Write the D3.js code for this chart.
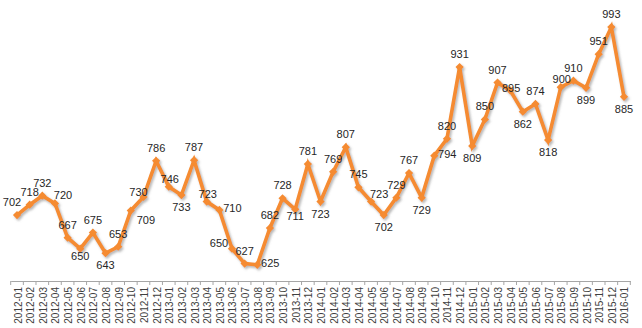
<!DOCTYPE html>
<html>
<head>
<meta charset="utf-8">
<script src="https://cdn.jsdelivr.net/npm/d3@7"></script>
<style>
  html, body { margin: 0; padding: 0; background: #fff; }
  svg { display: block; }
</style>
</head>
<body>
<svg id="chart" width="642" height="328"></svg>
<script>
const categories = [
  "2012-01","2012-02","2012-03","2012-04","2012-05","2012-06","2012-07","2012-08","2012-09","2012-10","2012-11","2012-12",
  "2013-01","2013-02","2013-03","2013-04","2013-05","2013-06","2013-07","2013-08","2013-09","2013-10","2013-11","2013-12",
  "2014-01","2014-02","2014-03","2014-04","2014-05","2014-06","2014-07","2014-08","2014-09","2014-10","2014-11","2014-12",
  "2015-01","2015-02","2015-03","2015-04","2015-05","2015-06","2015-07","2015-08","2015-09","2015-10","2015-11","2015-12",
  "2016-01"
];
const values = [
  702,718,732,720,667,650,675,643,653,709,730,786,
  746,733,787,723,710,650,627,625,682,728,711,781,
  723,769,807,745,723,702,729,767,729,794,820,931,
  809,850,907,895,862,874,818,900,910,899,951,993,
  885
];
// data label placement relative to its point (T=above, B=below, L/R=side ...)
const labelPlacement = [
  "TL","T","T","TR","T","b","T","B","T","BR","tl","T",
  "t","B","T","t","R","L","T","R","T","T","b","T",
  "B","T","T","T","TR","B","T","T","B","R","T","T",
  "B","T","T","C","B","T","B","t","T","B","T","T",
  "B"
];

const placeOffsets = {
  T: [0, -13], B: [0, 12], t: [1, -8], b: [0, 7],
  TL: [-5, -13], TR: [8, -8], tl: [-5, -5],
  R: [13, -2], L: [-13, -6], BR: [15, 9], C: [1, -2]
};

const svg = d3.select("#chart");
const axisY = 281;
const orange = "#F58B30";

const x = d3.scaleBand().domain(categories).range([10.7, 630.3]).padding(0);
const y = d3.scaleLinear().domain([600, 1000]).range([axisY, 22.5]);
const cx = d => x(d) + x.bandwidth() / 2;

const defs = svg.append("defs");
const f = defs.append("filter").attr("id", "shadow")
  .attr("x", "-20%").attr("y", "-20%").attr("width", "140%").attr("height", "140%");
f.append("feDropShadow").attr("dx", 1.5).attr("dy", 1.8).attr("stdDeviation", 1.3)
  .attr("flood-color", "#7a7a7a").attr("flood-opacity", 0.55);

// x axis
const axis = d3.axisBottom(x).tickSize(0).tickPadding(0);
const gx = svg.append("g").attr("transform", `translate(0,${axisY})`).call(axis);
gx.select(".domain").attr("stroke", "#a6a6a6").attr("stroke-width", 1);
gx.selectAll("text")
  .attr("transform", "rotate(-90)")
  .attr("x", -6).attr("y", 1).attr("dy", "0.35em")
  .style("text-anchor", "end")
  .attr("fill", "#404040")
  .style("font-family", "Arial, 'Liberation Sans', sans-serif")
  .style("font-size", "10px");
// tick marks at category boundaries
const bounds = categories.map(c => x(c)).concat([x.range()[1]]);
gx.selectAll("line.bound").data(bounds).enter().append("line")
  .attr("class", "bound")
  .attr("x1", d => d).attr("x2", d => d)
  .attr("y1", 0).attr("y2", 4)
  .attr("stroke", "#a6a6a6").attr("stroke-width", 1);

const data = categories.map((c, i) => ({ c, v: values[i], p: labelPlacement[i] }));

const g = svg.append("g").attr("filter", "url(#shadow)");
const line = d3.line().x(d => cx(d.c)).y(d => y(d.v));
g.append("path").datum(data)
  .attr("d", line)
  .attr("fill", "none")
  .attr("stroke", orange)
  .attr("stroke-width", 3.6)
  .attr("stroke-linejoin", "miter");

const sym = d3.symbol().type(d3.symbolSquare).size(34);
g.selectAll("path.mk").data(data).enter().append("path")
  .attr("class", "mk")
  .attr("d", sym)
  .attr("transform", d => `translate(${cx(d.c)},${y(d.v)}) rotate(45)`)
  .attr("fill", orange);

svg.append("g").selectAll("text").data(data).enter().append("text")
  .attr("x", d => cx(d.c) + placeOffsets[d.p][0])
  .attr("y", d => y(d.v) + placeOffsets[d.p][1])
  .attr("text-anchor", "middle")
  .attr("dominant-baseline", "central")
  .attr("fill", "#262626")
  .style("font-family", "Arial, 'Liberation Sans', sans-serif")
  .style("font-size", "11px")
  .text(d => d.v);
</script>
</body>
</html>
